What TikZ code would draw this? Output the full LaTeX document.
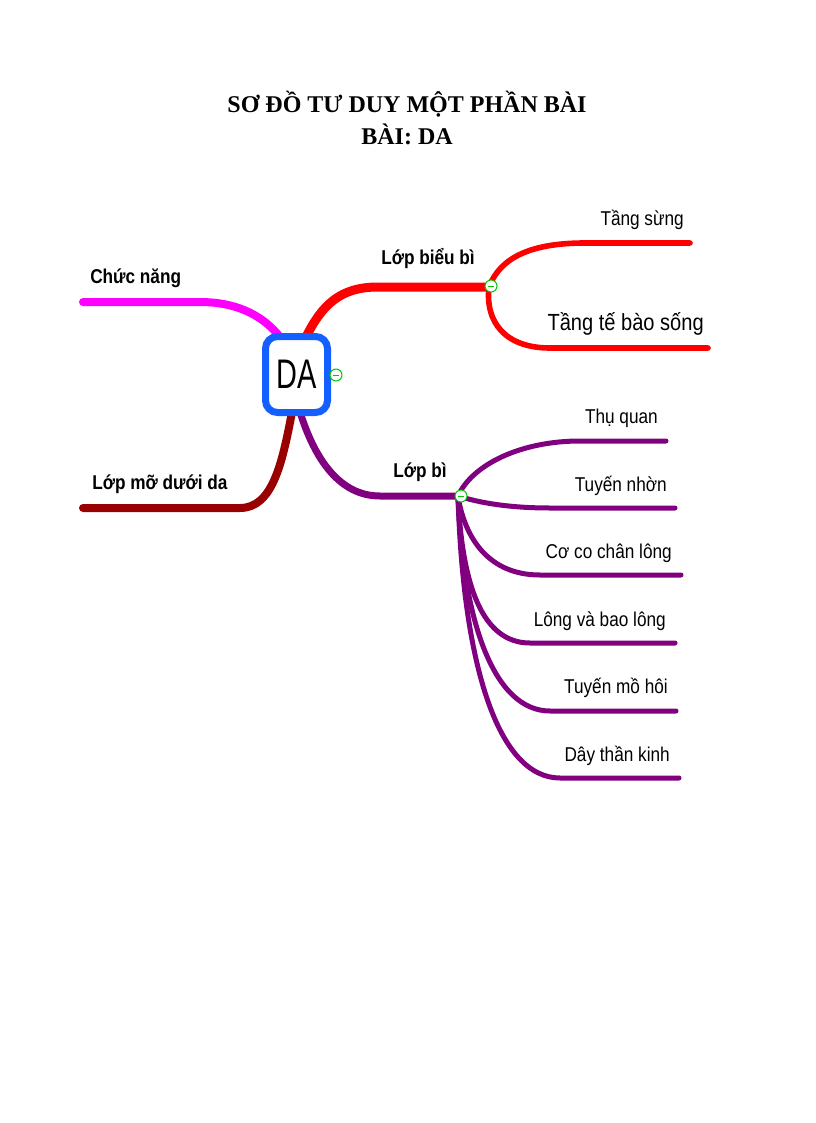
\documentclass[tikz,border=0pt]{standalone}
\usepackage{fontspec}
\setmainfont{Liberation Serif}
\newfontfamily\lab[FakeStretch=0.86]{Liberation Sans}
\newfontfamily\dafont[FakeStretch=0.7]{Liberation Sans}
\definecolor{cmag}{RGB}{255,0,255}
\definecolor{cred}{RGB}{255,0,0}
\definecolor{cmaroon}{RGB}{153,0,0}
\definecolor{cpurp}{RGB}{128,0,128}
\definecolor{cblue}{RGB}{20,95,255}
\definecolor{cgreen}{RGB}{0,200,0}
\tikzset{
  titletext/.style={font=\bfseries\fontsize{18}{21}\selectfont, inner sep=0pt},
  mainlabel/.style={font=\lab\bfseries\fontsize{15}{18}\selectfont, inner sep=0pt},
  sublabel/.style={font=\lab\fontsize{15}{18}\selectfont, inner sep=0pt},
  biglabel/.style={font=\lab\fontsize{17.5}{21}\selectfont, inner sep=0pt},
  branch/.style={line width=#1, line cap=round},
  centerbox/.style={draw=cblue, line width=5.25pt, fill=white, rounded corners=9pt,
    minimum width=46.5pt, minimum height=57pt, inner sep=0pt,
    font=\dafont\fontsize{31}{34}\selectfont},
  marker/.style={circle, draw=cgreen, line width=0.8pt, fill=white, minimum size=9pt, inner sep=0pt,
    path picture={\draw[cgreen, line width=0.6pt] ([xshift=-2.2pt]path picture bounding box.center) -- ([xshift=2.2pt]path picture bounding box.center);}}
}
\begin{document}
\begin{tikzpicture}[x=0.75pt,y=-0.75pt]
\useasboundingbox (0,0) rectangle (816,1123);

% title
\node[titletext] (t1) at (407,104) {SƠ ĐỒ TƯ DUY MỘT PHẦN BÀI};
\node[titletext] (t2) at (407,134) {BÀI: DA};

% coordinates
\coordinate (boxTL) at (280,337);
\coordinate (boxT) at (306,337);
\coordinate (boxBL) at (292,412);
\coordinate (boxB) at (300,412);
\coordinate (cnEnd) at (83,302);
\coordinate (bbHub) at (489,287);
\coordinate (mdEnd) at (83,508);
\coordinate (lbHub) at (458,496);
\coordinate (tsEnd) at (690,243);
\coordinate (tbEnd) at (708,348);
\coordinate (tqEnd) at (666,441);
\coordinate (tnEnd) at (675,508);
\coordinate (ccEnd) at (681,575);
\coordinate (lvEnd) at (675,643);
\coordinate (tmEnd) at (676,711);
\coordinate (dtEnd) at (679,778);

% main branches
\draw[branch=6pt, cmag] (cnEnd) -- (200,302) .. controls (240,302) and (265,318) .. (boxTL);
\draw[branch=6.75pt, cred] (boxT) .. controls (322,305) and (340,287) .. (378,287) -- (bbHub);
\draw[branch=6pt, cmaroon] (boxBL) .. controls (282,465) and (272,508) .. (240,508) -- (mdEnd);
\draw[branch=5.25pt, cpurp] (boxB) .. controls (315,460) and (340,496) .. (380,496) -- (lbHub);

% red sub-branches
\draw[branch=4.2pt, cred] (bbHub) .. controls (500,258) and (530,243) .. (585,243) -- (tsEnd);
\draw[branch=4.2pt, cred] (bbHub) .. controls (485,322) and (505,348) .. (550,348) -- (tbEnd);

% purple sub-branches
\draw[branch=3.75pt, cpurp] (lbHub) .. controls (472,465) and (520,441) .. (580,441) -- (tqEnd);
\draw[branch=3.75pt, cpurp] (lbHub) .. controls (480,503) and (510,508) .. (550,508) -- (tnEnd);
\draw[branch=3.75pt, cpurp] (lbHub) .. controls (465,540) and (490,575) .. (540,575) -- (ccEnd);
\draw[branch=3.75pt, cpurp] (lbHub) .. controls (462,585) and (482,643) .. (530,643) -- (lvEnd);
\draw[branch=3.75pt, cpurp] (lbHub) .. controls (463,625) and (495,711) .. (550,711) -- (tmEnd);
\draw[branch=3.75pt, cpurp] (lbHub) .. controls (463,665) and (498,778) .. (560,778) -- (dtEnd);

% center
\node[centerbox] (da) at (296.5,374.5) {DA};

% markers
\node[marker] (m1) at (336,375) {};
\node[marker] (m2) at (491,286) {};
\node[marker] (m3) at (461,496) {};

% labels
\node[mainlabel, anchor=west] (cn) at (90,278) {Chức năng};
\node[mainlabel, anchor=west] (bb) at (381,259) {Lớp biểu bì};
\node[mainlabel, anchor=west] (md) at (92,484) {Lớp mỡ dưới da};
\node[mainlabel, anchor=west] (lb) at (393,472) {Lớp bì};
\node[sublabel, anchor=east] (ts) at (684,220) {Tầng sừng};
\node[biglabel, anchor=east] (tb) at (704,324) {Tầng tế bào sống};
\node[sublabel, anchor=east] (tq) at (658,418) {Thụ quan};
\node[sublabel, anchor=east] (tn) at (667,486) {Tuyến nhờn};
\node[sublabel, anchor=east] (cc) at (672,553) {Cơ co chân lông};
\node[sublabel, anchor=east] (lv) at (666,621) {Lông và bao lông};
\node[sublabel, anchor=east] (tm) at (668,688) {Tuyến mồ hôi};
\node[sublabel, anchor=east] (dt) at (670,756) {Dây thần kinh};
\end{tikzpicture}
\end{document}
